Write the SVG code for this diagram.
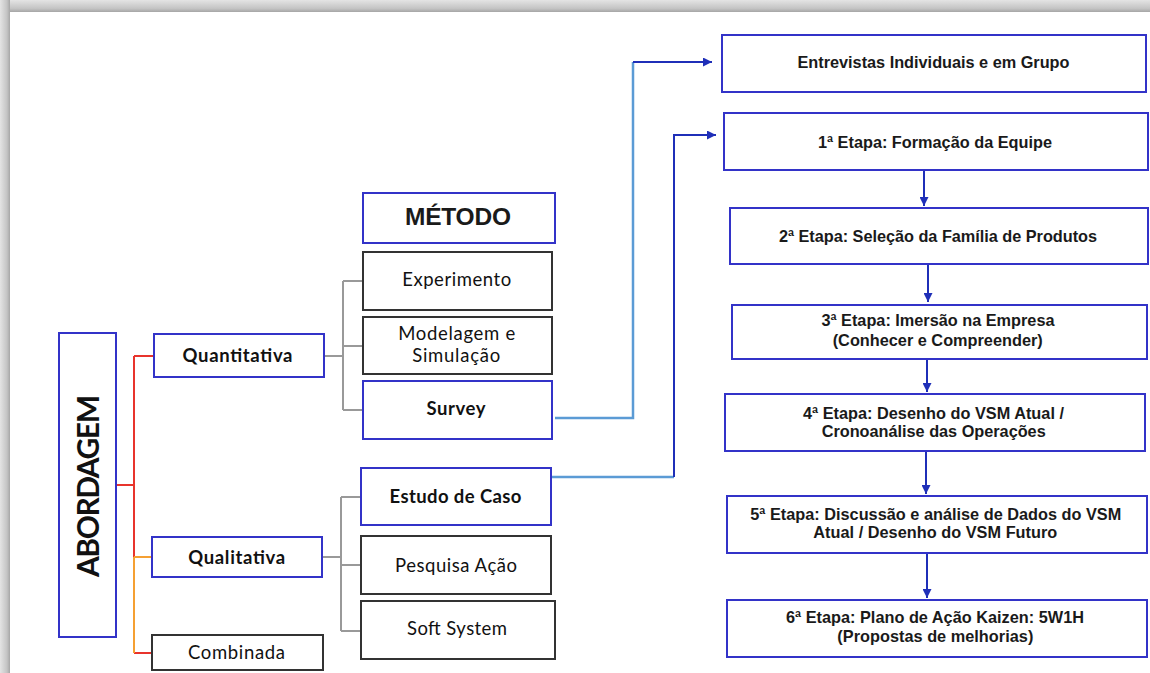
<svg xmlns="http://www.w3.org/2000/svg" width="1150" height="673" viewBox="0 0 1150 673">
<defs>
<linearGradient id="gTop" x1="0" y1="0" x2="0" y2="1">
<stop offset="0" stop-color="#e4e4e4"/><stop offset="0.7" stop-color="#c4c4c4"/><stop offset="1" stop-color="#a6a6a6"/>
</linearGradient>
<linearGradient id="gLeft" x1="0" y1="0" x2="1" y2="0">
<stop offset="0" stop-color="#e4e4e4"/><stop offset="0.7" stop-color="#c4c4c4"/><stop offset="1" stop-color="#a6a6a6"/>
</linearGradient>
<marker id="arr" viewBox="0 0 10 10" refX="10" refY="5" markerWidth="9" markerHeight="9" markerUnits="userSpaceOnUse" orient="auto">
<path d="M0,0 L10,5 L0,10 z" fill="#1f2fb8"/>
</marker>
<style>
.bb{fill:#fff;stroke:#3333c8;stroke-width:2}
.bd{fill:#fff;stroke:#333;stroke-width:2}
.gr{fill:none;stroke:#999;stroke-width:2}
.rd{fill:none;stroke:#e8342c;stroke-width:2}
.or{fill:none;stroke:#f5a033;stroke-width:2}
.lb{fill:none;stroke:#5b9bd5;stroke-width:2.5}
.db{fill:none;stroke:#1f2fb8;stroke-width:2}
.c{font-family:Lato,"Open Sans",sans-serif;font-size:18.5px;fill:#111;text-anchor:middle}
.cb{font-weight:bold}
.a{font-family:"Liberation Sans",Arial,sans-serif;font-weight:bold;font-size:16.3px;fill:#1a1a1a;text-anchor:middle}
</style>
</defs>
<rect x="0" y="0" width="1150" height="673" fill="#fff"/>
<rect x="0" y="0" width="1150" height="12" fill="url(#gTop)"/>
<rect x="0" y="0" width="10" height="673" fill="url(#gLeft)"/>

<g id="connectors">
<path class="rd" d="M116,485 H134 M134,356 V557 M134,356 H154 M134,653 H152"/>
<path class="or" d="M134,557 V653 M134,557 H152"/>
<path class="gr" d="M324,356 H343 M343,281 V410 M343,281 H363 M343,346 H363 M343,410 H363"/>
<path class="gr" d="M322,557 H341 M341,497 V631 M341,497 H361 M341,565 H361 M341,631 H361"/>
<path class="lb" d="M555,418 H633 V62"/>
<path class="db" d="M633,62 H712" marker-end="url(#arr)"/>
<path class="lb" d="M551,477 H674"/>
<path class="db" d="M674,477 V135 H716" marker-end="url(#arr)"/>
<path class="db" d="M924,170 V206" marker-end="url(#arr)"/>
<path class="db" d="M928,265 V302" marker-end="url(#arr)"/>
<path class="db" d="M927,359 V392" marker-end="url(#arr)"/>
<path class="db" d="M926,451 V494" marker-end="url(#arr)"/>
<path class="db" d="M927,553 V598" marker-end="url(#arr)"/>
</g>

<g id="abordagem"><rect class="bb" x="59" y="333" width="57" height="304"/>
<text class="c cb" style="font-size:30px" transform="translate(99,486) rotate(-90)" textLength="182">ABORDAGEM</text></g>
<g id="quantitativa"><rect class="bb" x="154" y="334" width="170" height="43"/>
<text class="c cb" x="237.5" y="362" textLength="110">Quantitativa</text></g>
<g id="qualitativa"><rect class="bb" x="152" y="537" width="170" height="40"/>
<text class="c cb" x="236.7" y="563.5" textLength="97">Qualitativa</text></g>
<g id="combinada"><rect class="bd" x="152" y="635" width="171" height="35"/>
<text class="c" x="236.5" y="658.5" textLength="97">Combinada</text></g>

<g id="metodo"><rect class="bb" x="363" y="193" width="192" height="50"/>
<text class="a" style="font-size:24.5px" x="458" y="225" textLength="106">MÉTODO</text></g>
<g id="experimento"><rect class="bd" x="363" y="252" width="189" height="58"/>
<text class="c" x="456.7" y="286" textLength="109">Experimento</text></g>
<g id="modelagem"><rect class="bd" x="363" y="317" width="189" height="57"/>
<text class="c" x="456.7" y="339.5" textLength="117">Modelagem e</text>
<text class="c" x="456.2" y="361.7" textLength="88">Simulação</text></g>
<g id="survey"><rect class="bb" x="363" y="381" width="189" height="58"/>
<text class="c cb" x="456" y="415" textLength="59">Survey</text></g>
<g id="estudo"><rect class="bb" x="361" y="468" width="190" height="57"/>
<text class="c cb" x="455.5" y="502.7" textLength="132">Estudo de Caso</text></g>
<g id="pesquisa"><rect class="bd" x="361" y="536" width="190" height="58"/>
<text class="c" x="456" y="571.7" textLength="122">Pesquisa Ação</text></g>
<g id="soft"><rect class="bd" x="361" y="601" width="194" height="58"/>
<text class="c" x="457" y="635" textLength="100">Soft System</text></g>

<g id="entrevistas"><rect class="bb" x="722" y="35" width="424" height="57"/>
<text class="a" x="933.5" y="68.3" textLength="272">Entrevistas Individuais e em Grupo</text></g>
<g id="etapa1"><rect class="bb" x="724" y="113" width="424" height="57"/>
<text class="a" x="935" y="147.7" textLength="234">1ª Etapa: Formação da Equipe</text></g>
<g id="etapa2"><rect class="bb" x="730" y="208" width="418" height="56"/>
<text class="a" x="938" y="242.3" textLength="318">2ª Etapa: Seleção da Família de Produtos</text></g>
<g id="etapa3"><rect class="bb" x="732" y="305" width="415" height="54"/>
<text class="a" x="938" y="326" textLength="233">3ª Etapa: Imersão na Empresa</text>
<text class="a" x="937.7" y="346" textLength="210">(Conhecer e Compreender)</text></g>
<g id="etapa4"><rect class="bb" x="725" y="394" width="420" height="57"/>
<text class="a" x="933.5" y="419.3" textLength="261">4ª Etapa: Desenho do VSM Atual /</text>
<text class="a" x="933.7" y="437.3" textLength="224">Cronoanálise das Operações</text></g>
<g id="etapa5"><rect class="bb" x="727" y="496" width="420" height="57"/>
<text class="a" x="935.8" y="520" textLength="371">5ª Etapa: Discussão e análise de Dados do VSM</text>
<text class="a" x="935.3" y="537.7" textLength="244">Atual / Desenho do VSM Futuro</text></g>
<g id="etapa6"><rect class="bb" x="727" y="600" width="420" height="57"/>
<text class="a" x="935" y="623.3" textLength="298">6ª Etapa: Plano de Ação Kaizen: 5W1H</text>
<text class="a" x="935.3" y="641.5" textLength="196">(Propostas de melhorias)</text></g>
</svg>
